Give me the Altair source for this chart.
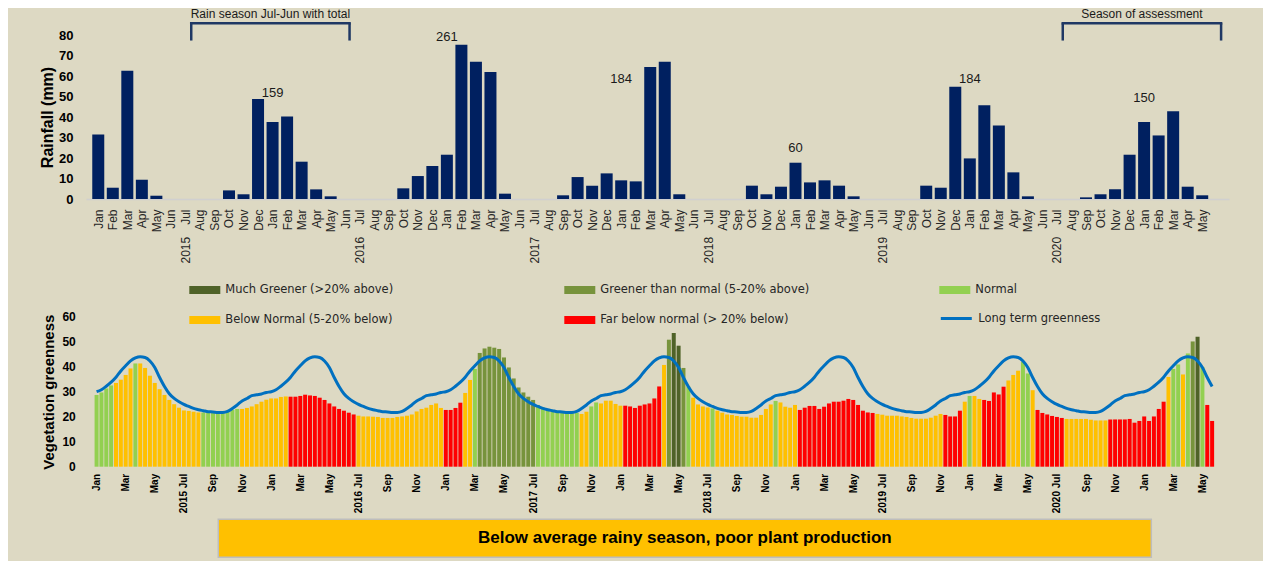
import json
import altair as alt
import pandas as pd

# ---------------- data ----------------
MONTHS = ["Jan", "Feb", "Mar", "Apr", "May", "Jun", "Jul", "Aug", "Sep", "Oct", "Nov", "Dec"]
FIRST_YEAR = 2015

# Monthly rainfall (mm), Jan 2015 - May 2021
RAIN_2015 = [31.5, 5.5, 62.6, 9.4, 1.6, 0, 0, 0, 0, 4.2, 2.3, 48.8]
RAIN_2016 = [37.6, 40.2, 18.2, 4.7, 1.3, 0, 0, 0, 0, 5.2, 11.2, 16.1]
RAIN_2017 = [21.6, 75.3, 67.0, 62.0, 2.6, 0, 0, 0, 1.8, 10.7, 6.5, 12.5]
RAIN_2018 = [9.1, 8.6, 64.4, 67.0, 2.3, 0, 0, 0, 0, 6.5, 2.3, 6.0]
RAIN_2019 = [17.7, 8.1, 9.1, 6.5, 1.3, 0, 0, 0, 0, 6.5, 5.5, 54.8]
RAIN_2020 = [19.8, 45.7, 35.9, 13.0, 1.3, 0, 0, 0, 0.8, 2.3, 4.7, 21.6]
RAIN_2021 = [37.6, 31.0, 42.8, 6.0, 1.8]

# Season (Jul-Jun) totals, labelled at January of each season
SEASON_TOTALS = [159, 261, 184, 60, 184, 150]
SEASON_LABEL_MONTH = [12, 24, 36, 48, 60, 72]
SEASON_LABEL_MM = [51.5, 79.2, 58.5, 25.0, 58.5, 49.4]

BRACKET_TEXT = ["Rain season Jul-Jun with total", "Season of assessment"]
BRACKET_START = [6, 66]
BRACKET_END = [17, 77]

# Dekadal vegetation greenness, Jan 2015 d1 - May 2021 d3
VG_2015 = [28.7, 29.7, 31.3, 32.5, 33.5, 34.8, 36.7, 39.3, 41.3, 41.3, 39.5, 36.4, 33.5, 31.0, 28.7, 26.7, 25.0, 23.6,
           22.5, 22.3, 22.0, 21.7, 21.7, 21.6, 21.5, 21.5, 21.5, 22.0, 22.7, 23.1, 23.1, 23.5, 24.1, 25.0, 26.0, 26.8]
VG_2016 = [27.3, 27.3, 27.9, 28.1, 28.0, 28.0, 28.3, 28.8, 28.5, 28.3, 27.6, 26.7, 25.3, 24.1, 23.1, 22.4, 21.6, 20.9,
           20.4, 20.1, 20.1, 20.0, 19.9, 19.5, 19.5, 19.5, 19.9, 20.1, 20.4, 20.9, 22.1, 23.1, 23.6, 24.7, 25.3, 23.5]
VG_2017 = [22.7, 22.7, 23.5, 25.6, 29.5, 34.7, 39.1, 45.5, 47.3, 48.0, 47.6, 47.1, 43.7, 39.7, 35.3, 31.7, 29.7, 28.0,
           26.7, 24.7, 23.7, 23.1, 22.4, 22.0, 21.6, 21.5, 21.5, 21.5, 21.1, 22.0, 24.1, 25.7, 25.3, 26.4, 26.4, 25.1]
VG_2018 = [24.4, 24.4, 24.1, 23.5, 24.4, 24.9, 25.3, 27.3, 32.1, 40.7, 50.8, 53.5, 48.4, 39.5, 32.1, 27.6, 24.9, 24.1,
           23.7, 23.3, 22.4, 21.6, 20.9, 20.7, 20.3, 20.0, 20.0, 19.6, 19.6, 20.7, 23.1, 24.9, 26.3, 25.7, 24.0, 23.6]
VG_2019 = [24.7, 22.7, 23.6, 24.3, 24.3, 23.1, 24.0, 25.3, 26.0, 26.0, 26.4, 27.1, 26.7, 24.7, 22.4, 21.7, 21.5, 21.1,
           20.8, 20.4, 20.4, 20.4, 20.1, 19.9, 19.5, 19.2, 19.2, 19.2, 19.6, 20.4, 21.1, 20.7, 20.1, 20.1, 22.4, 26.0]
VG_2020 = [28.3, 28.3, 27.1, 26.7, 26.3, 29.7, 28.9, 32.0, 34.5, 36.7, 38.4, 42.0, 37.3, 30.6, 22.7, 21.5, 20.9, 20.3,
           19.9, 19.5, 19.1, 19.1, 19.1, 19.1, 19.1, 18.8, 18.5, 18.5, 18.5, 18.9, 18.9, 18.9, 18.9, 19.1, 17.6, 18.3]
VG_2021 = [20.1, 18.3, 20.1, 23.1, 26.0, 35.9, 39.1, 40.9, 36.9, 45.3, 50.1, 52.0, 39.9, 24.7, 18.3]

# Category per dekad: M much greener, G greener, N normal, B below normal, F far below
CAT_2015 = "NNNNBBBBNBBBBBBBBBBBBBNNNNNNNNBBBBBB"
CAT_2016 = "BBBBFFFFFFFFFFFFFFBBBBBBBBBBBBBBBBBB"
CAT_2017 = "FFFFBBNGGGGGGGGGGGGNNNNNNNNNBBNNBBBB"
CAT_2018 = "BFFFFFFFFBGMMGNBBBBNBBBBBBBBBBBBNBBB"
CAT_2019 = "BFFFFFFFFFFFFFFFFBBBBBBBBBBBBBBFFFFB"
CAT_2020 = "NBBFFFFFBBBNNBFFFFFFBBBBBBBBBFFFFFFF"
CAT_2021 = "FFFFFBNNBNGMNFF"

# Long-term mean greenness per dekad of the year
LTA_DEKAD = [30.0, 30.8, 32.2, 33.8, 35.8, 38.3, 40.4, 42.3, 43.5, 44.0, 43.7, 42.3, 39.7, 35.7, 32.1, 29.2, 27.3, 26.0,
             24.9, 24.1, 23.3, 22.8, 22.4, 22.0, 21.9, 21.7, 21.7, 22.1, 23.3, 24.7, 26.3, 27.3, 28.4, 28.8, 29.1, 29.7]

CATEGORIES = ["Much Greener (>20% above)", "Greener than normal (5-20% above)", "Normal",
              "Below Normal (5-20% below)", "Far below normal (> 20% below)"]
CAT_CODES = ["M", "G", "N", "B", "F"]
CAT_COLORS = ["#4F6228", "#77933C", "#92D050", "#FFC000", "#FF0000"]
LINE_NAME = "Long term greenness"
BANNER_TEXT = "Below average rainy season, poor plant production"

# ---------------- tables ----------------
RAIN_MM = RAIN_2015 + RAIN_2016 + RAIN_2017 + RAIN_2018 + RAIN_2019 + RAIN_2020 + RAIN_2021
top_df = pd.DataFrame({"idx": list(range(len(RAIN_MM))), "rain": RAIN_MM})
season_df = pd.DataFrame({"idx": SEASON_LABEL_MONTH, "mm": SEASON_LABEL_MM, "total": SEASON_TOTALS})
bracket_df = pd.DataFrame({"label": BRACKET_TEXT, "s": BRACKET_START, "e": BRACKET_END})

VG = VG_2015 + VG_2016 + VG_2017 + VG_2018 + VG_2019 + VG_2020 + VG_2021
CATS = CAT_2015 + CAT_2016 + CAT_2017 + CAT_2018 + CAT_2019 + CAT_2020 + CAT_2021
code_to_name = dict(zip(CAT_CODES, CATEGORIES))
bot_df = pd.DataFrame({
    "k": list(range(len(VG))),
    "vg": VG,
    "cat": [code_to_name[c] for c in CATS],
    "lta": [LTA_DEKAD[i % 36] for i in range(len(VG))],
    "series": [LINE_NAME] * len(VG),
})

# ---------------- styling ----------------
BG = "#DDD9C3"
AX_FONT = "Liberation Sans"
LEG_FONT = "DejaVu Sans"
W = 1143
TOP_H = 164
BOT_H = 150
M_JS = json.dumps(MONTHS)

top_x_expr = (f"(datum.value % 12 == 6) ? ({FIRST_YEAR} + floor(datum.value / 12)) + '\u2003' + {M_JS}[6] "
              f": {M_JS}[datum.value % 12]")
TOP_X_AXIS = alt.Axis(values=list(range(len(RAIN_MM))), labelExpr=top_x_expr, labelAngle=270,
                      labelFont=AX_FONT, labelFontSize=12, labelColor="#262626", labelPadding=10,
                      labelFlush=False, labelOverlap=False, ticks=False, tickSize=0,
                      domain=True, domainColor="#D0D0D0", domainWidth=1.5, grid=False)
TOP_X_SCALE = alt.Scale(domain=[-0.5, 77.5], nice=False, zero=False)
TOP_Y_AXIS = alt.Axis(values=list(range(0, 81, 10)), labelFont=AX_FONT, labelFontSize=13, labelFontWeight="bold",
                      labelColor="black", labelPadding=13, ticks=False, tickSize=0, domain=False, grid=False,
                      titleFont=AX_FONT, titleFontSize=16, titleFontWeight="bold", titleColor="black",
                      titlePadding=3)
TOP_Y_SCALE = alt.Scale(domain=[0, 80], nice=False)
YT = "Rainfall (mm)"


def xt(field):
    return alt.X(field, type="quantitative", scale=TOP_X_SCALE, axis=TOP_X_AXIS, title=None)


bars_top = alt.Chart(top_df).mark_bar(color="#002060", size=12).encode(
    x=xt("idx"),
    y=alt.Y("rain:Q", scale=TOP_Y_SCALE, axis=TOP_Y_AXIS, title=YT),
)

season_text = alt.Chart(season_df).mark_text(font=AX_FONT, fontSize=13, color="#1a1a1a").encode(
    x=xt("idx"),
    y=alt.Y("mm:Q", scale=TOP_Y_SCALE, axis=TOP_Y_AXIS, title=YT),
    text="total:Q",
)

BR_COLOR = "#1F3864"
br_base = alt.Chart(bracket_df).transform_calculate(
    x0="datum.s + 0.4", x1="datum.e + 0.3", mid="(datum.s + datum.e + 0.7) / 2"
)
br_h = br_base.mark_rule(color=BR_COLOR, strokeWidth=2.5, strokeCap="square").encode(
    x=xt("x0"), x2="x1:Q", y=alt.Y(datum=85.7, scale=TOP_Y_SCALE, axis=TOP_Y_AXIS, title=YT)
)
br_l = br_base.mark_rule(color=BR_COLOR, strokeWidth=2.5).encode(
    x=xt("x0"), y=alt.Y(datum=77.3, scale=TOP_Y_SCALE, axis=TOP_Y_AXIS, title=YT), y2=alt.Y2(datum=85.7)
)
br_r = br_base.mark_rule(color=BR_COLOR, strokeWidth=2.5).encode(
    x=xt("x1"), y=alt.Y(datum=77.3, scale=TOP_Y_SCALE, axis=TOP_Y_AXIS, title=YT), y2=alt.Y2(datum=85.7)
)
br_t = br_base.mark_text(font=AX_FONT, fontSize=12, color="#1a1a1a").encode(
    x=xt("mid"), y=alt.Y(datum=90.2, scale=TOP_Y_SCALE, axis=TOP_Y_AXIS, title=YT), text="label:N"
)

top = alt.layer(bars_top, season_text, br_h, br_l, br_r, br_t).properties(width=W, height=TOP_H)

# bottom chart
bot_x_expr = (f"(floor(datum.value / 3) % 12 == 6) ? ({FIRST_YEAR} + floor(datum.value / 36)) + ' ' + {M_JS}[6] "
              f": {M_JS}[floor(datum.value / 3) % 12]")
BOT_X_AXIS = alt.Axis(values=list(range(0, len(VG), 6)), labelExpr=bot_x_expr, labelAngle=270,
                      labelFont=AX_FONT, labelFontSize=10, labelFontWeight="bold", labelColor="black",
                      labelPadding=6.6, labelFlush=False, labelOverlap=False, ticks=False, tickSize=0,
                      domain=False, grid=False)
BOT_X_SCALE = alt.Scale(domain=[-1.15, 232.45], nice=False, zero=False)
BOT_Y_AXIS = alt.Axis(values=list(range(0, 61, 10)), labelFont=AX_FONT, labelFontSize=12, labelFontWeight="bold",
                      labelColor="black", labelPadding=10.7, ticks=False, tickSize=0, domain=False, grid=False,
                      titleFont=AX_FONT, titleFontSize=15, titleFontWeight="bold", titleColor="black",
                      titlePadding=5.4)
BOT_Y_SCALE = alt.Scale(domain=[0, 60], nice=False)
YB = "Vegetation greenness"
RECT_PATH = "M-1,-0.26L1,-0.26L1,0.26L-1,0.26Z"

# legends are placed relative to the first (top) panel's plot origin
LEG_X = 103.3
LEG_Y_ROW1 = 239.5
LEG_Y_LINE = 266.5
LEG_X_LINE = 853.3

bars_bot = alt.Chart(bot_df).mark_bar(size=4).encode(
    x=alt.X("k:Q", scale=BOT_X_SCALE, axis=BOT_X_AXIS, title=None),
    y=alt.Y("vg:Q", scale=BOT_Y_SCALE, axis=BOT_Y_AXIS, title=YB),
    color=alt.Color("cat:N", scale=alt.Scale(domain=CATEGORIES, range=CAT_COLORS),
                    legend=alt.Legend(orient="none", legendX=LEG_X, legendY=LEG_Y_ROW1, columns=3,
                                      direction="horizontal", title=None,
                                      symbolType=RECT_PATH, symbolSize=961, symbolStrokeWidth=0,
                                      symbolOpacity=1,
                                      labelFont=LEG_FONT, labelFontSize=11.5, labelColor="#262626",
                                      labelOffset=5, columnPadding=130, rowPadding=9, gridAlign="all",
                                      labelLimit=400)),
)

line_bot = alt.Chart(bot_df).mark_line(interpolate="monotone", strokeWidth=3).encode(
    x=alt.X("k:Q", scale=BOT_X_SCALE, axis=BOT_X_AXIS, title=None),
    y=alt.Y("lta:Q", scale=BOT_Y_SCALE, axis=BOT_Y_AXIS, title=YB),
    stroke=alt.Stroke("series:N", scale=alt.Scale(domain=[LINE_NAME], range=["#0070C0"]),
                      legend=alt.Legend(orient="none", legendX=LEG_X_LINE, legendY=LEG_Y_LINE, title=None,
                                        symbolType="stroke", symbolSize=961, symbolStrokeWidth=3,
                                        labelFont=LEG_FONT, labelFontSize=11.5, labelColor="#262626",
                                        labelOffset=5, labelLimit=400)),
)

banner_df = pd.DataFrame({"t": [BANNER_TEXT]})
banner_rect = alt.Chart(banner_df).mark_rect(fill="#FFC000", stroke="#BDBDBD", strokeWidth=1.5).encode(
    x=alt.value(132.3), x2=alt.value(1065.3), y=alt.value(202.6), y2=alt.value(240.6)
)
banner_text = alt.Chart(banner_df).mark_text(font=AX_FONT, fontSize=17, fontWeight="bold", color="black").encode(
    x=alt.value(598.8), y=alt.value(221.6), text="t:N"
)

bottom = alt.layer(bars_bot, line_bot, banner_rect, banner_text).properties(width=W, height=BOT_H)

chart = alt.vconcat(top, bottom, spacing=46.7).properties(
    background=BG, padding={"left": 31, "top": 0, "right": 34, "bottom": 8}
).configure_view(stroke=None)

chart.save("out.html", embed_options={"renderer": "svg", "actions": False})
